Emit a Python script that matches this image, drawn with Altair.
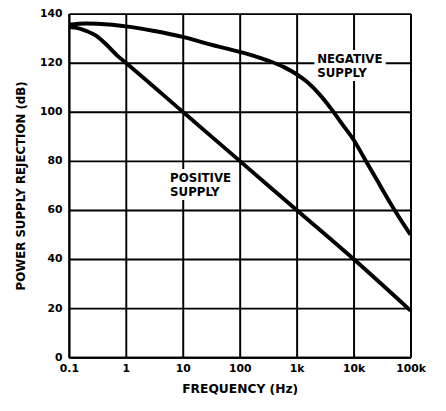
import altair as alt
import pandas as pd

# Negative supply curve (Hz, dB)
neg_freq = [0.1, 0.2, 0.5, 1, 3, 10, 30, 100, 200, 340, 600, 1000, 1500, 2500, 4170, 6500, 10000, 15700, 25000, 48000, 100000]
neg_db = [135.5, 136, 135.6, 134.8, 133, 130.5, 127.5, 124.4, 122.4, 120.6, 118.2, 115.3, 112.3, 107.2, 100.8, 94.6, 88.6, 80.8, 72.7, 61.4, 49.9]

# Positive supply curve (Hz, dB)
pos_freq = [0.1, 0.15, 0.2, 0.3, 0.45, 0.7, 1, 10, 100, 1000, 10000, 100000]
pos_db = [134.5, 134, 133, 131, 127.5, 123, 120, 100, 80, 60, 40, 19]

# Annotation labels
label_text = [["NEGATIVE", "SUPPLY"], ["POSITIVE", "SUPPLY"]]
label_freq = [2300, 6.0]
label_db = [123.6, 75.2]

x_ticks = [0.1, 1, 10, 100, 1000, 10000, 100000]
x_tick_labels = ["0.1", "1", "10", "100", "1k", "10k", "100k"]
y_ticks = [0, 20, 40, 60, 80, 100, 120, 140]

curves = pd.concat([
    pd.DataFrame({"f": neg_freq, "db": neg_db, "series": "neg"}),
    pd.DataFrame({"f": pos_freq, "db": pos_db, "series": "pos"}),
])
labels = pd.DataFrame({"f": label_freq, "db": label_db, "t": label_text})

# map tick values (by decade exponent) to their printed labels
label_list = "[" + ", ".join(f"'{t}'" for t in x_tick_labels) + "]"
label_expr = f"{label_list}[round(log(datum.value) / LN10) + 1]"

x_scale = alt.Scale(type="log", domain=[0.1, 100000], nice=False)
y_scale = alt.Scale(domain=[0, 140], nice=False)

FONT = "DejaVu Sans"

x_enc = alt.X("f:Q", scale=x_scale, axis=alt.Axis(
    values=x_ticks, labelExpr=label_expr, title="FREQUENCY (Hz)",
    grid=True, gridColor="black", gridWidth=2, gridOpacity=1,
    domainColor="black", domainWidth=2, ticks=False,
    labelFont=FONT, labelFontWeight="bold", labelFontSize=11, labelColor="black",
    labelPadding=6, labelFlush=False,
    titleFont=FONT, titleFontWeight="bold", titleFontSize=12.5, titleColor="black",
    titlePadding=9,
))
y_enc = alt.Y("db:Q", scale=y_scale, axis=alt.Axis(
    values=y_ticks, title="POWER SUPPLY REJECTION (dB)",
    grid=True, gridColor="black", gridWidth=2, gridOpacity=1,
    domainColor="black", domainWidth=2, ticks=False,
    labelFont=FONT, labelFontWeight="bold", labelFontSize=11, labelColor="black",
    labelPadding=7, labelFlush=False,
    titleFont=FONT, titleFontWeight="bold", titleFontSize=12, titleColor="black",
    titlePadding=12,
))

lines = alt.Chart(curves).mark_line(color="black", strokeWidth=4, interpolate="monotone").encode(
    x=x_enc, y=y_enc, detail="series:N"
)

halo = alt.Chart(labels).mark_text(
    align="left", baseline="top", font=FONT, fontWeight="bold", fontSize=12,
    lineHeight=15, stroke="white", strokeWidth=8, color="white"
).encode(x=alt.X("f:Q", scale=x_scale), y=alt.Y("db:Q", scale=y_scale), text="t")

text = alt.Chart(labels).mark_text(
    align="left", baseline="top", font=FONT, fontWeight="bold", fontSize=12,
    lineHeight=15, color="black"
).encode(x=alt.X("f:Q", scale=x_scale), y=alt.Y("db:Q", scale=y_scale), text="t")

chart = alt.layer(lines, halo, text).properties(
    width=348, height=350,
    autosize=alt.AutoSizeParams(type="none"),
    padding={"left": 62, "top": 2, "right": 28, "bottom": 49},
).configure_view(stroke="black", strokeWidth=2).configure(background="white")

chart.save("out.html", embed_options={"renderer": "svg", "actions": False})
